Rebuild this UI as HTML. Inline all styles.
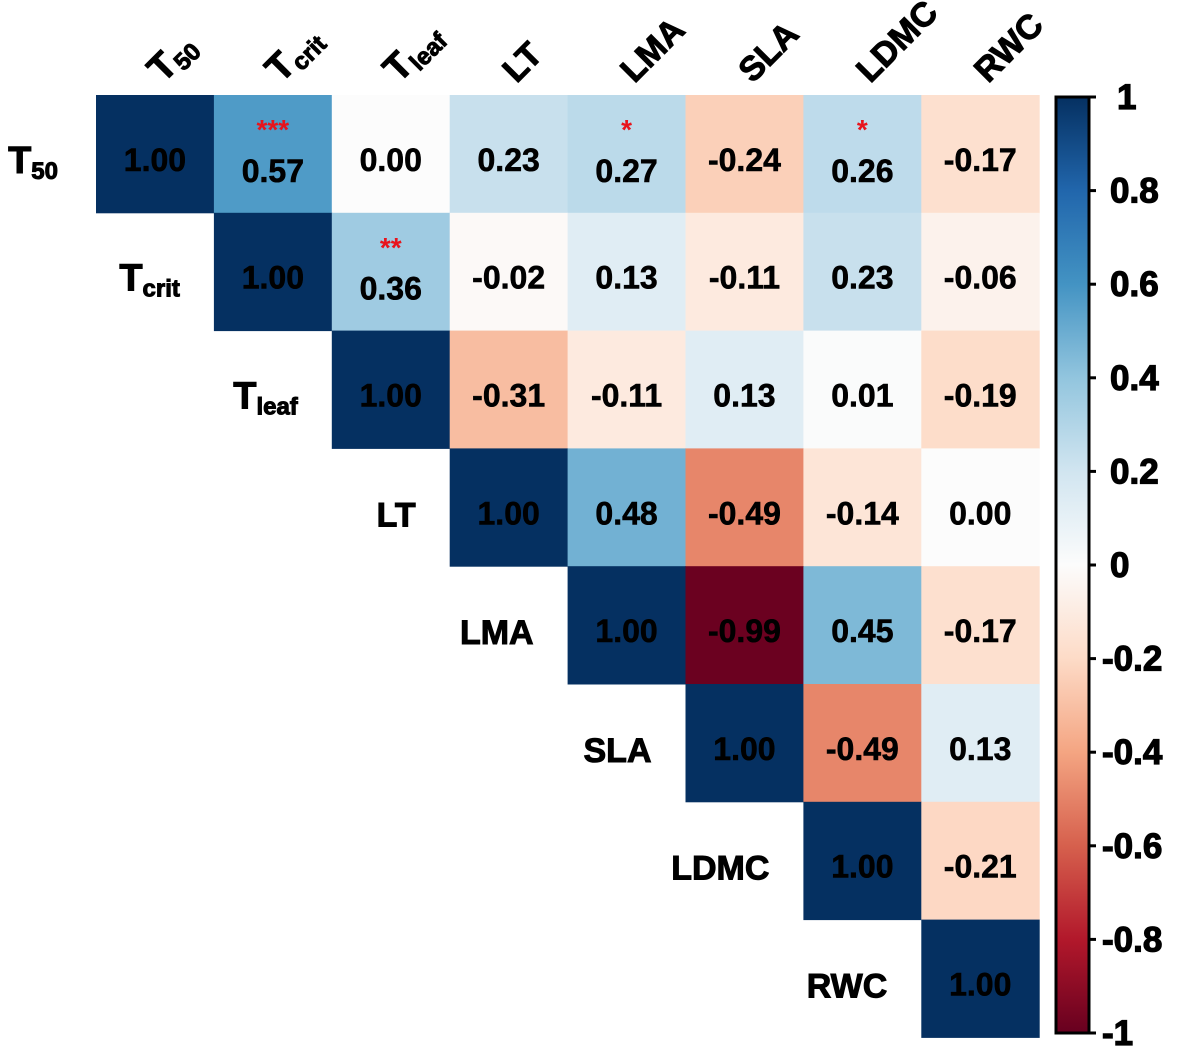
<!DOCTYPE html>
<html><head><meta charset="utf-8"><style>
body{margin:0;background:#fff;}
svg text{font-family:"Liberation Sans",Arial,sans-serif;font-weight:bold;}
</style></head><body>
<svg id="chart" width="1181" height="1047" viewBox="0 0 1181 1047" xmlns="http://www.w3.org/2000/svg">
<g id="cells"></g>
<g id="labels"></g>
<g id="colorbar"></g>
</svg>
<script>
const vars = ["T50","Tcrit","Tleaf","LT","LMA","SLA","LDMC","RWC"];
const row0 = [1.00,0.57,0.00,0.23,0.27,-0.24,0.26,-0.17];
const row1 = [1.00,0.36,-0.02,0.13,-0.11,0.23,-0.06];
const row2 = [1.00,-0.31,-0.11,0.13,0.01,-0.19];
const row3 = [1.00,0.48,-0.49,-0.14,0.00];
const row4 = [1.00,-0.99,0.45,-0.17];
const row5 = [1.00,-0.49,0.13];
const row6 = [1.00,-0.21];
const row7 = [1.00];
const rows = [row0,row1,row2,row3,row4,row5,row6,row7];
const sigRow = [0,0,0,1];
const sigCol = [1,4,6,2];
const sigStars = ["***","*","*","**"];
const cbTicks = [1,0.8,0.6,0.4,0.2,0,-0.2,-0.4,-0.6,-0.8,-1];

const X0=96,Y0=95,CW=117.9,CH=117.8;
const xs=j=>X0+j*CW, ys=i=>Y0+i*CH;
const stops=[[-1,[103,0,31]],[-0.8,[178,24,43]],[-0.6,[214,96,77]],[-0.4,[244,165,130]],[-0.2,[253,219,199]],[0,[252,252,252]],[0.2,[209,229,240]],[0.4,[146,197,222]],[0.6,[67,147,195]],[0.8,[33,102,172]],[1,[5,48,97]]];
function col(v){for(let k=0;k<stops.length-1;k++){const a=stops[k],b=stops[k+1];if(v<=b[0]){const t=(v-a[0])/(b[0]-a[0]);return`rgb(${a[1].map((c,i)=>Math.round(c+(b[1][i]-c)*t)).join(',')})`;}}return'rgb(5,48,97)';}
const NS="http://www.w3.org/2000/svg";
function mk(tag,attrs,parent,txt){const e=document.createElementNS(NS,tag);for(const k in attrs)e.setAttribute(k,attrs[k]);if(txt!==undefined)e.textContent=txt;parent.appendChild(e);return e;}
const cells=document.getElementById('cells'),labels=document.getElementById('labels'),cb=document.getElementById('colorbar');
const sigOf=(i,j)=>{for(let k=0;k<sigRow.length;k++)if(sigRow[k]===i&&sigCol[k]===j)return sigStars[k];return null;};
rows.forEach((r,i)=>r.forEach((v,k)=>{const j=i+k;
 const rect=mk('rect',{x:xs(j),y:ys(i),width:CW+0.5,height:CH+0.5,fill:col(v)},cells);
 
 
 const s=sigOf(i,j);const cx=xs(j)+CW/2,cy=ys(i)+CH/2;
 const t=mk('text',{x:cx,y:cy+(s?28:17),'text-anchor':'middle','font-size':32,fill:'#000',stroke:'#000','stroke-width':0.6},cells,v.toFixed(2));
 
 
 if(s){const st=mk('text',{x:cx,y:ys(i)+44,'text-anchor':'middle','font-size':28,fill:'#e8141c'},cells,s);
  
  }
}));
function lab(name,parent,attrs){const t=mk('text',attrs,parent);const m=name.match(/^T(.+)$/);
 if(m){mk('tspan',{'font-size':38},t,'T');mk('tspan',{'font-size':24,dy:6},t,m[1]);}
 else t.textContent=name;return t;}
vars.forEach((v,j)=>{
 const cx=xs(j)+CW/2;
 const t=lab(v,labels,{x:0,y:0,'font-size':34,fill:'#000',stroke:'#000','stroke-width':1,transform:`translate(${cx+8},${84}) rotate(-45)`});
 
 
 const rx=j===0?58:xs(j)-34;
 const r=lab(v,labels,{x:rx,y:ys(j)+CH/2+19,'text-anchor':'end','font-size':34,fill:'#000',stroke:'#000','stroke-width':1});
 
 
});
const CBX=1056,CBW=33,CBT=97,CBB=1033;
const cy=v=>CBB-(v+1)/2*(CBB-CBT);
const defs=mk('defs',{},cb);const g=mk('linearGradient',{id:'grad',x1:0,y1:1,x2:0,y2:0},defs);
stops.forEach(s=>mk('stop',{offset:((s[0]+1)/2*100)+'%','stop-color':col(s[0])},g));
const bar=mk('rect',{x:CBX,y:CBT,width:CBW,height:CBB-CBT,fill:'url(#grad)',stroke:'#000','stroke-width':3},cb);


cbTicks.forEach(v=>{const y=cy(v);
 mk('line',{x1:CBX+CBW,x2:CBX+CBW+7,y1:y,y2:y,stroke:'#000','stroke-width':3},cb);
 const t=mk('text',{x:v>0.9?1117:(v<0?1102:1110),y:y+12,'font-size':35,fill:'#000',stroke:'#000','stroke-width':1.2},cb,v===0?'0':String(v));
 
 });
</script>
</body></html>
